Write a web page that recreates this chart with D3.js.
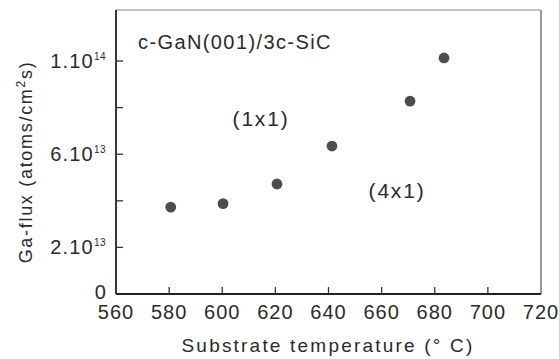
<!DOCTYPE html>
<html><head><meta charset="utf-8">
<script src="https://cdn.jsdelivr.net/npm/d3@7/dist/d3.min.js"></script>
<style>
body{margin:0;background:#fff}
text{font-family:"Liberation Sans",Arial,sans-serif;fill:#2a2a2a}
</style></head>
<body><svg id="c" width="559" height="359"></svg>
<script>
const temps = [580.6, 600.3, 620.6, 641.3, 670.7, 683.5];
const fluxes = [3.73e13, 3.88e13, 4.72e13, 6.35e13, 8.28e13, 10.13e13];
const xTicks = [560, 580, 600, 620, 640, 660, 680, 700, 720];
const yTicks = [0, 2e13, 4e13, 6e13, 8e13, 1e14];
const yTickLabels = {0:["0",""], 2e13:["2.10","13"], 6e13:["6.10","13"], 1e14:["1.10","14"]};
const annotations = [
  {text:"(1x1)", t:614.6, f:7.55e13},
  {text:"(4x1)", t:665.8, f:4.46e13}
];

const svg = d3.select("#c");
const L=116, R=541, T=10, B=294;
const x = d3.scaleLinear().domain([560,720]).range([L,R]);
const y = d3.scaleLinear().domain([0,2e13]).range([B,B-46.6]);

// frame
svg.append("line").attr("x1",L).attr("x2",R).attr("y1",T).attr("y2",T).attr("stroke","#888").attr("stroke-width",1.2);
svg.append("line").attr("x1",R).attr("x2",R).attr("y1",T).attr("y2",B).attr("stroke","#555").attr("stroke-width",1.2);
svg.append("line").attr("x1",L).attr("x2",R).attr("y1",B).attr("y2",B).attr("stroke","#222").attr("stroke-width",1.8);
svg.append("line").attr("x1",L).attr("x2",L).attr("y1",T).attr("y2",B).attr("stroke","#222").attr("stroke-width",1.8);

// x axis ticks (inward) and labels
const xa = svg.append("g");
xTicks.forEach(v=>{
  if(v>560 && v<720) xa.append("line").attr("x1",x(v)).attr("x2",x(v)).attr("y1",B).attr("y2",B-7).attr("stroke","#333").attr("stroke-width",1.3);
  xa.append("text").attr("x",x(v)).attr("y",B+25).attr("text-anchor","middle")
    .attr("font-size",20).attr("letter-spacing","1px").text(v);
});

// y axis ticks and labels
const ya = svg.append("g");
yTicks.forEach(v=>{
  if(v>0) ya.append("line").attr("x1",L).attr("x2",L+7).attr("y1",y(v)).attr("y2",y(v)).attr("stroke","#333").attr("stroke-width",1.3);
  const lab = yTickLabels[v];
  if(lab){
    const t = ya.append("text").attr("x",v===0?107:106).attr("y",y(v)+(v===0?5:7)).attr("text-anchor","end").attr("font-size",20).attr("letter-spacing","1.2px");
    t.append("tspan").text(lab[0]);
    if(lab[1]) t.append("tspan").attr("dy",-8).attr("font-size",10).attr("letter-spacing","0.5px").text(lab[1]);
  }
});

// points
svg.append("g").selectAll("circle").data(temps).join("circle")
  .attr("cx",(d)=>x(d)).attr("cy",(d,i)=>y(fluxes[i])).attr("r",5.4).attr("fill","#4d4d4d");

// annotations
svg.append("text").attr("x",138).attr("y",49).attr("font-size",20).attr("letter-spacing","1.4px").text("c-GaN(001)/3c-SiC");
annotations.forEach(a=>{
  svg.append("text").attr("x",x(a.t)).attr("y",y(a.f)+8).attr("text-anchor","middle")
    .attr("font-size",21).attr("letter-spacing","1.8px").text(a.text);
});

// axis titles
svg.append("text").attr("x",328).attr("y",352).attr("text-anchor","middle").attr("font-size",19).attr("letter-spacing","2.2px")
  .text("Substrate  temperature (° C)");
const yt = svg.append("text").attr("transform","translate(32,162) rotate(-90)").attr("text-anchor","middle").attr("font-size",18).attr("letter-spacing","1.7px");
yt.append("tspan").text("Ga-flux (atoms/cm");
yt.append("tspan").attr("dy",-7).attr("font-size",12).text("2");
yt.append("tspan").attr("dy",7).text("s)");
</script></body></html>
